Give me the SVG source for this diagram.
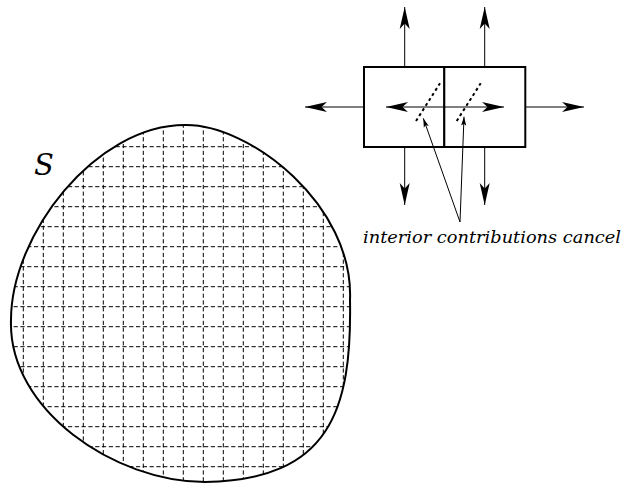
<svg xmlns="http://www.w3.org/2000/svg" width="623" height="483" viewBox="0 0 623 483">
<style>
.grid{stroke:#000;stroke-width:1;stroke-dasharray:4.2 2.6;fill:none}
.bound{fill:none;stroke:#000;stroke-width:2}
.box{fill:#fff;stroke:#000;stroke-width:2}
.arr{stroke:#000;stroke-width:1;fill:none;marker-end:url(#big)}
.ptr{stroke:#000;stroke-width:1;fill:none;marker-end:url(#small)}
.dot{stroke:#000;stroke-width:2;stroke-dasharray:3 3;fill:none}
.lbl{font-family:"DejaVu Serif","Liberation Serif",serif;font-style:italic;fill:#000}
</style>
<defs>
<marker id="big" markerUnits="userSpaceOnUse" viewBox="-23 -6 24 12" refX="0" refY="0" markerWidth="24" markerHeight="12" orient="auto">
<path d="M0,0 L-22,-5 L-16.5,0 L-22,5 Z" fill="#000"/>
</marker>
<marker id="small" markerUnits="userSpaceOnUse" viewBox="-10 -4 11 8" refX="0" refY="0" markerWidth="11" markerHeight="8" orient="auto">
<path d="M0,0 L-9,-2.6 L-7,0 L-9,2.6 Z" fill="#000"/>
</marker>
<path id="blob" d="M185,125 C250,124 354,205 350,300 C352,410 330,480 205,482 C115,482 8,410 11,320 C11,235 95,125 185,125 Z"/>
<clipPath id="clip"><use href="#blob"/></clipPath>
</defs>
<g id="region-S">
<g clip-path="url(#clip)" class="grid">
<path d="M23.3,110V483M43.3,110V483M63.3,110V483M83.3,110V483M103.3,110V483M123.3,110V483M143.3,110V483M163.3,110V483M183.3,110V483M203.3,110V483M223.3,110V483M243.3,110V483M263.3,110V483M283.3,110V483M303.3,110V483M323.3,110V483M343.3,110V483"/>
<path d="M0,146.7H360M0,166.7H360M0,186.7H360M0,206.7H360M0,226.7H360M0,246.7H360M0,266.7H360M0,286.7H360M0,306.7H360M0,326.7H360M0,346.7H360M0,366.7H360M0,386.7H360M0,406.7H360M0,426.7H360M0,446.7H360M0,466.7H360"/>
</g>
<use href="#blob" class="bound"/>
<text class="lbl" x="44" y="175" font-size="29" text-anchor="middle">S</text>
</g>
<g id="cell-left">
<rect class="box" x="364" y="67" width="80.3" height="80"/>
</g>
<g id="cell-right">
<rect class="box" x="444.3" y="67" width="81" height="80"/>
</g>
<g id="connectors">
<line class="arr" x1="404.7" y1="67" x2="404.7" y2="7"/>
<line class="arr" x1="484.7" y1="67" x2="484.7" y2="7"/>
<line class="arr" x1="404.7" y1="147" x2="404.7" y2="205"/>
<line class="arr" x1="484.7" y1="147" x2="484.7" y2="205"/>
<line class="arr" x1="364" y1="107" x2="305" y2="107"/>
<line class="arr" x1="525.3" y1="107" x2="584" y2="107"/>
<line class="arr" x1="444.3" y1="107" x2="386" y2="107"/>
<line class="arr" x1="444.3" y1="107" x2="504" y2="107"/>
<line class="dot" x1="416" y1="121" x2="440" y2="83.3"/>
<line class="dot" x1="456.7" y1="121" x2="480.7" y2="83.3"/>
<line class="ptr" x1="460" y1="222" x2="423.3" y2="118.3"/>
<line class="ptr" x1="460" y1="222" x2="464" y2="116.7"/>
</g>
<text id="label" class="lbl" x="363" y="243" font-size="17" textLength="258" lengthAdjust="spacingAndGlyphs">interior contributions cancel</text>
</svg>
